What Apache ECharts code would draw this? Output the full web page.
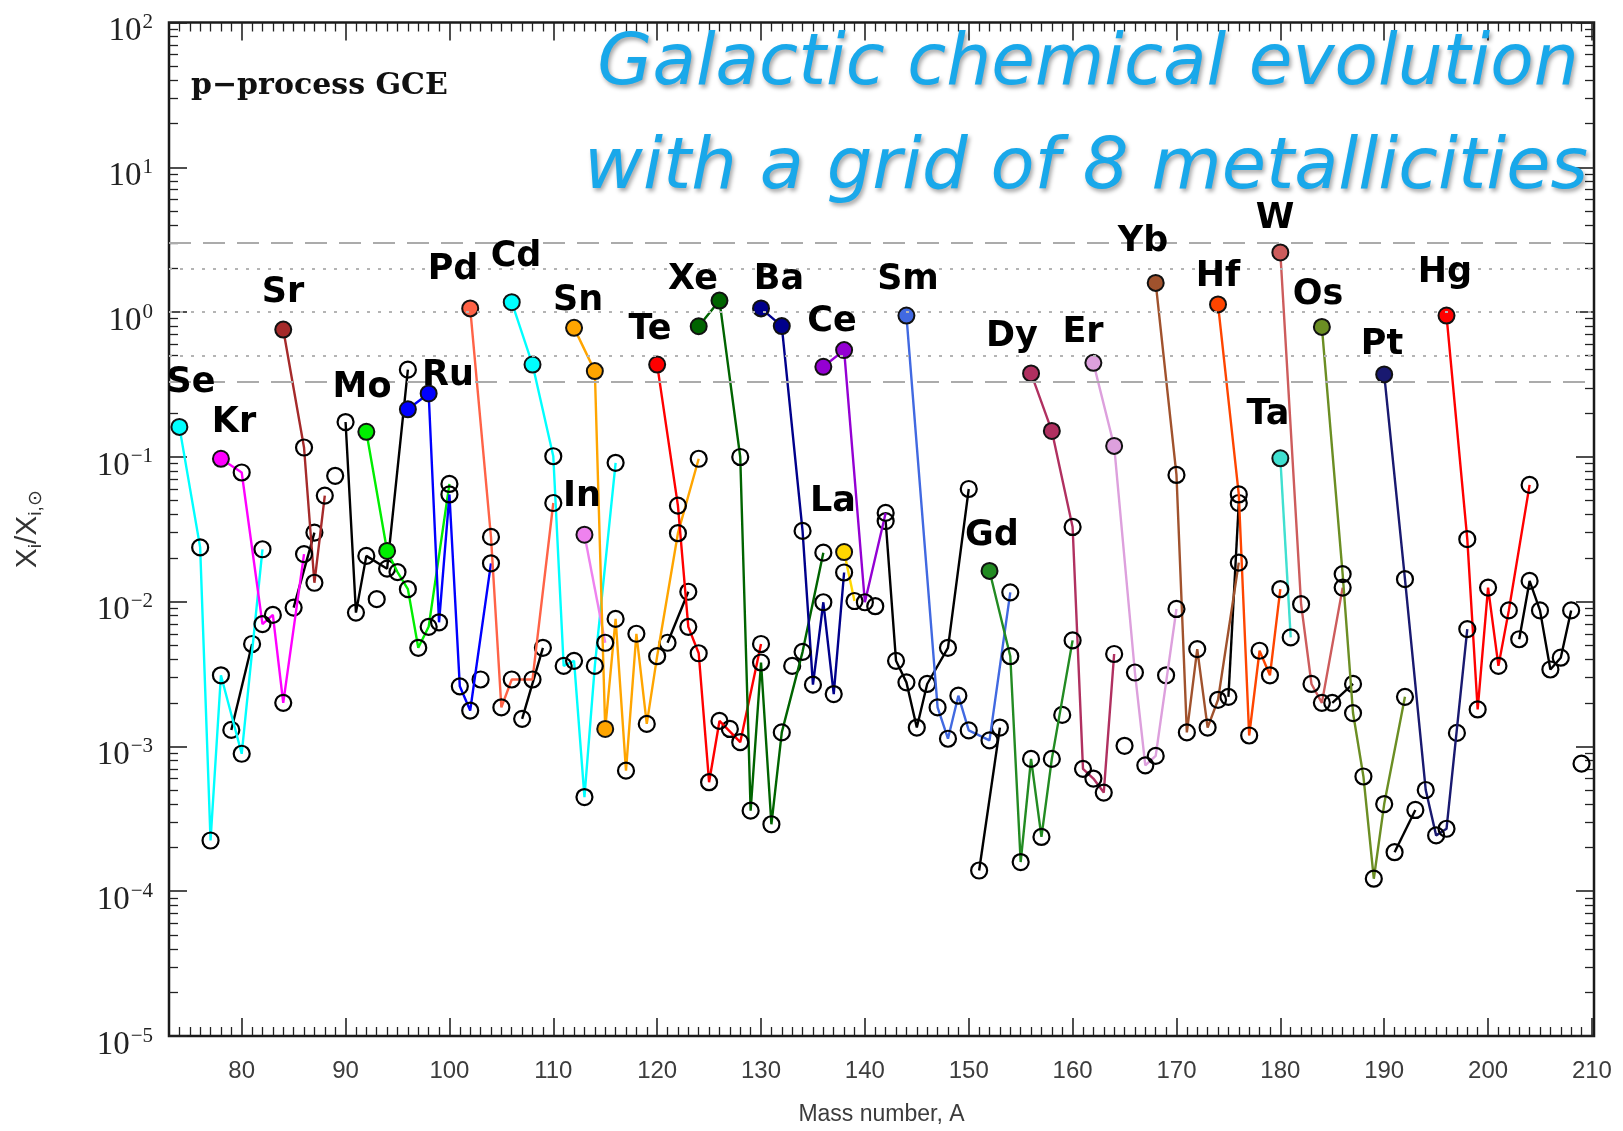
<!DOCTYPE html>
<html><head><meta charset="utf-8">
<script src="https://cdn.jsdelivr.net/npm/echarts@6/dist/echarts.min.js"></script>
<style>html,body{margin:0;padding:0;background:#fff}#c{width:1623px;height:1131px}</style>
</head><body><div id="c"></div>
<script>
// ---------------- DATA: [mass number A, X_i / X_i,sun] ----------------
const Se = [[74,0.161],[76,0.0237],[77,0.000224],[78,0.0031],[80,0.00089],[82,0.023]];
const Br = [[79,0.0013],[81,0.0051]];
const Kr = [[78,0.097],[80,0.078],[82,0.0070],[83,0.0081],[84,0.0020],[86,0.0213]];
const Rb = [[85,0.0091],[87,0.030]];
const Sr = [[84,0.757],[86,0.116],[87,0.0135],[88,0.054]];
const Y_ = [[89,0.074]];
const Zr = [[90,0.174],[91,0.0084],[92,0.0207],[94,0.0169],[96,0.40]];
const Nb = [[93,0.0104]];
const Mo = [[92,0.149],[94,0.0224],[95,0.016],[96,0.0122],[97,0.0048],[98,0.0067],[100,0.065]];
const Ru = [[96,0.213],[98,0.274],[99,0.0072],[100,0.055],[101,0.0026],[102,0.00177],[104,0.0184]];
const Rh = [[103,0.0029]];
const Pd = [[102,1.06],[104,0.028],[105,0.00186],[106,0.0029],[108,0.0029],[110,0.048]];
const Ag = [[107,0.00155],[109,0.0048]];
const Cd = [[106,1.17],[108,0.434],[110,0.101],[111,0.0036],[112,0.0039],[113,0.000447],[114,0.0036],[116,0.091]];
const In = [[113,0.029],[115,0.0052]];
const Sn = [[112,0.778],[114,0.391],[115,0.00132],[116,0.0076],[117,0.00068],[118,0.0060],[119,0.00143],[120,0.0042],[122,0.0297],[124,0.097]];
const Sb = [[121,0.0052],[123,0.0117]];
const Te = [[120,0.434],[122,0.046],[123,0.0067],[124,0.0044],[125,0.000566],[126,0.0015],[128,0.00107],[130,0.0051]];
const I_ = [[127,0.00132]];
const Xe = [[124,0.798],[126,1.20],[128,0.0998],[129,0.00036],[130,0.0038],[131,0.00029],[132,0.00125],[134,0.0045],[136,0.0218]];
const Cs = [[133,0.0036]];
const Ba = [[130,1.06],[132,0.80],[134,0.0308],[135,0.00267],[136,0.0099],[137,0.0023],[138,0.0159]];
const La = [[138,0.022],[139,0.0101]];
const Ce = [[136,0.419],[138,0.546],[140,0.0099],[142,0.041]];
const Pr = [[141,0.0093]];
const Nd = [[142,0.036],[143,0.0039],[144,0.00277],[145,0.00135],[146,0.0027],[148,0.0048],[150,0.060]];
const Sm = [[144,0.946],[147,0.00186],[148,0.00113],[149,0.00224],[150,0.00129],[152,0.0011],[154,0.0116]];
const Eu = [[151,0.000139],[153,0.00135]];
const Gd = [[152,0.0163],[154,0.0042],[155,0.000159],[156,0.00082],[157,0.000237],[158,0.00082],[160,0.0054]];
const Tb = [[159,0.00165]];
const Dy = [[156,0.377],[158,0.151],[160,0.0328],[161,0.0007],[162,0.0006],[163,0.00048],[164,0.00435]];
const Ho = [[165,0.00101]];
const Er = [[162,0.446],[164,0.119],[166,0.00324],[167,0.00074],[168,0.00086],[170,0.0089]];
const Tm = [[169,0.0031]];
const Yb = [[168,1.59],[170,0.075],[171,0.00125],[172,0.0047],[173,0.00135],[174,0.0021],[176,0.0186]];
const Lu = [[175,0.0022],[176,0.048]];
const Hf = [[174,1.13],[176,0.055],[177,0.00119],[178,0.00458],[179,0.0031],[180,0.0122]];
const Ta = [[180,0.0977],[181,0.00566]];
const W_ = [[180,2.58],[182,0.0096],[183,0.0027],[184,0.0020],[186,0.0125]];
const Re = [[185,0.0020],[187,0.0027]];
const Os = [[184,0.79],[186,0.0155],[187,0.0017],[188,0.00062],[189,0.000122],[190,0.0004],[192,0.0022]];
const Ir = [[191,0.000186],[193,0.000364]];
const Pt = [[190,0.371],[192,0.0143],[194,0.0005],[195,0.000243],[196,0.00027],[198,0.00646]];
const Au = [[197,0.00124]];
const Hg = [[196,0.946],[198,0.027],[199,0.0018],[200,0.0125],[201,0.0036],[202,0.0087],[204,0.064]];
const TlPb = [[203,0.0055],[204,0.0139],[205,0.0087],[206,0.0034],[207,0.0041],[208,0.0087]];
const Bi = [[209,0.00076]];

// p-nuclei (drawn as filled circles)
const pNuclei = ['Se74','Kr78','Sr84','Mo92','Mo94','Ru96','Ru98','Pd102','Cd106','Cd108','In113',
  'Sn112','Sn114','Sn115','Te120','Xe124','Xe126','Ba130','Ba132','La138','Ce136','Ce138','Sm144',
  'Gd152','Dy156','Dy158','Er162','Er164','Yb168','Hf174','Ta180','W180','Os184','Pt190','Hg196'];

// reference lines (ratio values)
const refDashed = [3, 0.333];
const refDotted = [2, 1, 0.5];

// axis ticks
const xMajor = [80,90,100,110,120,130,140,150,160,170,180,190,200,210];
const yDecades = [-5,-4,-3,-2,-1,0,1,2];

// ---------------- STYLE / BUILD ----------------
const colored = [
  ['Se', Se, '#00ffff'], ['Kr', Kr, '#ff00ff'], ['Sr', Sr, '#a52a2a'], ['Mo', Mo, '#00ee00'],
  ['Ru', Ru, '#0000ff'], ['Pd', Pd, '#ff6347'], ['Cd', Cd, '#00ffff'], ['In', In, '#ee82ee'],
  ['Sn', Sn, '#ffa500'], ['Te', Te, '#ff0000'], ['Xe', Xe, '#006400'], ['Ba', Ba, '#00008b'],
  ['La', La, '#ffd700'], ['Ce', Ce, '#9400d3'], ['Sm', Sm, '#4169e1'], ['Gd', Gd, '#228b22'],
  ['Dy', Dy, '#b03060'], ['Er', Er, '#dda0dd'], ['Yb', Yb, '#a0522d'], ['Hf', Hf, '#ff4500'],
  ['Ta', Ta, '#40e0d0'], ['W', W_, '#cd5c5c'], ['Os', Os, '#6b8e23'], ['Pt', Pt, '#191970'],
  ['Hg', Hg, '#ff0000']
];
const blacks = [
  ['Br', Br], ['Rb', Rb], ['Y', Y_], ['Zr', Zr], ['Nb', Nb], ['Rh', Rh], ['Ag', Ag], ['Sb', Sb],
  ['I', I_], ['Cs', Cs], ['Pr', Pr], ['Nd', Nd], ['Eu', Eu], ['Tb', Tb], ['Ho', Ho], ['Tm', Tm],
  ['Lu', Lu], ['Re', Re], ['Ir', Ir], ['Au', Au], ['TlPb', TlPb], ['Bi', Bi]
];

const SYM = 16;
function mkSeries(name, pts, color, z) {
  return {
    type: 'line', name: name, z: z,
    data: pts.map(([a, v]) => {
      const d = { value: [a, Math.log10(v)] };
      if (pNuclei.indexOf(name + a) >= 0) d.itemStyle = { color: color, borderColor: '#111', borderWidth: 2 };
      return d;
    }),
    symbol: 'circle', symbolSize: SYM, showSymbol: true, showAllSymbol: true,
    lineStyle: { color: color, width: 2.4 },
    itemStyle: { color: 'rgba(255,255,255,0)', borderColor: '#000', borderWidth: 2.2 },
    emphasis: { disabled: true }, silent: true, animation: false
  };
}

const series = [];
series.push({
  type: 'line', data: [], z: 1, silent: true, animation: false,
  markLine: {
    silent: true, symbol: ['none', 'none'], animation: false,
    label: { show: false },
    data: refDashed.map(v => ({ yAxis: Math.log10(v), lineStyle: { color: '#ababab', width: 2, type: [22, 12] } }))
      .concat(refDotted.map(v => ({ yAxis: Math.log10(v), lineStyle: { color: '#b4b4b4', width: 2.2, type: [3, 8] } })))
  }
});
blacks.forEach(([n, p]) => series.push(mkSeries(n, p, '#000', 2)));
colored.forEach(([n, p, c]) => series.push(mkSeries(n, p, c, 3)));

const minorX = [];
for (let a = 74; a <= 210; a++) if (a % 10 !== 0) minorX.push(a);
const minorY = [];
for (let e = -5; e <= 1; e++) for (let k = 2; k <= 9; k++) minorY.push(Math.log10(k) + e);

const X0 = 73, X1 = 210.2;
const tickCol = '#222';
function xAx(pos, major) {
  return {
    type: 'value', min: X0, max: X1, position: pos,
    axisLine: { show: false, onZero: false },
    splitLine: { show: false },
    axisTick: { show: true, inside: true, length: major ? 18 : 9, customValues: major ? xMajor : minorX,
      lineStyle: { color: tickCol, width: major ? 1.6 : 1.3 } },
    axisLabel: (major && pos === 'bottom') ? { show: true, customValues: xMajor, margin: 23, fontSize: 24,
      color: '#3c3c3c', fontFamily: 'Liberation Sans' } : { show: false },
    name: (major && pos === 'bottom') ? 'Mass number, A' : '',
    nameLocation: 'middle', nameGap: 67,
    nameTextStyle: { fontSize: 23, color: '#3c3c3c', fontFamily: 'Liberation Sans' }
  };
}
function yAx(pos, major) {
  return {
    type: 'value', min: -5, max: 2, position: pos,
    axisLine: { show: false, onZero: false },
    splitLine: { show: false },
    axisTick: { show: true, inside: true, length: major ? 18 : 9, customValues: major ? yDecades : minorY,
      lineStyle: { color: tickCol, width: major ? 1.6 : 1.3 } },
    axisLabel: (major && pos === 'left') ? {
      show: true, customValues: yDecades, margin: 16,
      formatter: v => '{b|10}{s|' + (v < 0 ? '\u2212' + (-v) : v) + '}',
      rich: {
        b: { fontSize: 33, fontFamily: 'Liberation Serif', color: '#222', padding: [18, 0, 0, 0] },
        s: { fontSize: 21, fontFamily: 'Liberation Serif', color: '#222', padding: [0, 0, 0, 1] }
      }
    } : { show: false },
    name: (major && pos === 'left') ? '{x|X}{sub|i}{x|/X}{sub|i,\u2299}' : '',
    nameLocation: 'middle', nameRotate: 90, nameGap: 124,
    nameTextStyle: {
      rich: {
        x: { fontSize: 30, fontFamily: 'Liberation Sans', color: '#333' },
        sub: { fontSize: 19, fontFamily: 'Liberation Sans', color: '#333', padding: [16, 0, 0, 0] }
      }
    }
  };
}

const labels = [
  ['Se',191,383],['Kr',234,423],['Sr',283,293],['Mo',362,388],['Ru',448,376],['Pd',453,270],
  ['Cd',516,257],['Sn',578,301],['In',582,497],['Te',650,330],['Xe',693,280],['Ba',779,280],
  ['Ce',832,322],['La',833,502],['Sm',908,280],['Gd',992,536],['Dy',1012,337],['Er',1083,333],
  ['Yb',1143,242],['Hf',1218,277],['W',1275,219],['Ta',1268,415],['Os',1318,295],['Pt',1382,345],
  ['Hg',1445,273]
];
const graphic = labels.map(([t, x, y]) => ({
  type: 'text', z: 100, silent: true,
  style: { text: t, x: x, y: y, fill: '#000', font: 'bold 35px "DejaVu Sans"', textAlign: 'center', textVerticalAlign: 'middle' }
}));
graphic.push({
  type: 'text', z: 100, silent: true,
  style: { text: 'p\u2212process GCE', x: 191, y: 86, fill: '#111', font: 'bold 30px "DejaVu Serif"', textAlign: 'left', textVerticalAlign: 'middle' }
});
[['Galactic chemical evolution', 1088, 66, 71], ['with a grid of 8 metallicities', 1086, 169, 72]].forEach(([t, x, y, fs]) => {
  graphic.push({
    type: 'text', z: 101, silent: true,
    style: { text: t, x: x, y: y, fill: '#19a8ea', font: 'italic ' + fs + 'px "DejaVu Sans"', textAlign: 'center',
      textVerticalAlign: 'middle', shadowColor: 'rgba(0,0,0,0.35)', shadowBlur: 4, shadowOffsetX: 2, shadowOffsetY: 3,
      textShadowColor: 'rgba(0,0,0,0.35)', textShadowBlur: 4, textShadowOffsetX: 2, textShadowOffsetY: 3 }
  });
});

const chart = echarts.init(document.getElementById('c'), null, { renderer: 'canvas' });
chart.setOption({
  animation: false,
  backgroundColor: '#ffffff',
  grid: { left: 169, right: 29, top: 22.5, bottom: 93, show: true, borderColor: '#1a1a1a', borderWidth: 2.5, backgroundColor: 'transparent', containLabel: false },
  xAxis: [xAx('bottom', true), xAx('top', true), xAx('bottom', false), xAx('top', false)],
  yAxis: [yAx('left', true), yAx('right', true), yAx('left', false), yAx('right', false)],
  series: series,
  graphic: graphic
});
</script>
</body></html>
